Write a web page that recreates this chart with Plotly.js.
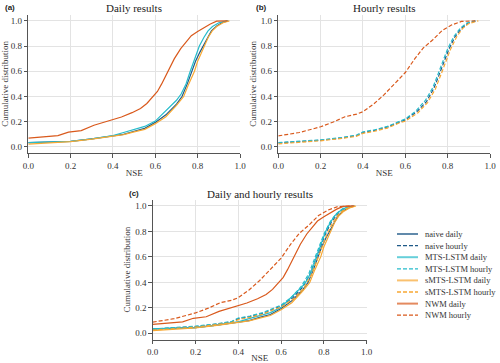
<!DOCTYPE html>
<html><head><meta charset="utf-8">
<script src="https://cdn.plot.ly/plotly-3.0.1.min.js"></script>
<style>html,body{margin:0;padding:0;background:#fff}#chart{width:500px;height:363px}</style>
</head><body><div id="chart"></div>
<script>
// ---- Data (NSE value, cumulative fraction) ----
const naiveDailyNSE = [0, 0.1, 0.2, 0.3, 0.4, 0.45, 0.5, 0.55, 0.6, 0.65, 0.7, 0.726, 0.751, 0.772, 0.79, 0.81, 0.826, 0.85, 0.865, 0.89, 0.92, 0.945];
const naiveDailyCDF = [0.035, 0.04, 0.045, 0.065, 0.088, 0.10, 0.125, 0.148, 0.195, 0.255, 0.34, 0.40, 0.50, 0.60, 0.68, 0.75, 0.80, 0.88, 0.92, 0.96, 0.99, 1.0];

const mtsDailyNSE = [0, 0.1, 0.2, 0.3, 0.4, 0.45, 0.5, 0.55, 0.6, 0.65, 0.7, 0.722, 0.745, 0.765, 0.785, 0.808, 0.83, 0.849, 0.87, 0.9, 0.94];
const mtsDailyCDF = [0.035, 0.04, 0.045, 0.065, 0.09, 0.115, 0.14, 0.163, 0.205, 0.29, 0.37, 0.42, 0.50, 0.60, 0.70, 0.80, 0.87, 0.92, 0.955, 0.985, 1.0];

const smtsDailyNSE = [0, 0.1, 0.2, 0.3, 0.4, 0.45, 0.5, 0.55, 0.6, 0.65, 0.7, 0.734, 0.758, 0.785, 0.80, 0.831, 0.85, 0.869, 0.89, 0.92, 0.95];
const smtsDailyCDF = [0.022, 0.032, 0.042, 0.062, 0.085, 0.098, 0.12, 0.14, 0.185, 0.24, 0.33, 0.40, 0.50, 0.60, 0.68, 0.80, 0.87, 0.92, 0.955, 0.985, 1.0];

const nwmDailyNSE = [0, 0.07, 0.14, 0.19, 0.25, 0.31, 0.36, 0.40, 0.44, 0.49, 0.53, 0.56, 0.59, 0.61, 0.63, 0.66, 0.69, 0.72, 0.745, 0.77, 0.80, 0.83, 0.86, 0.89, 0.94];
const nwmDailyCDF = [0.071, 0.078, 0.09, 0.118, 0.13, 0.172, 0.198, 0.218, 0.238, 0.272, 0.305, 0.345, 0.40, 0.44, 0.50, 0.60, 0.70, 0.78, 0.835, 0.882, 0.915, 0.945, 0.975, 0.997, 1.0];

const naiveHourlyNSE = [0, 0.1, 0.2, 0.3, 0.37, 0.4, 0.455, 0.515, 0.57, 0.6, 0.655, 0.7, 0.735, 0.76, 0.782, 0.805, 0.835, 0.865, 0.895, 0.935];
const naiveHourlyCDF = [0.032, 0.042, 0.053, 0.072, 0.09, 0.115, 0.132, 0.158, 0.198, 0.215, 0.28, 0.36, 0.465, 0.573, 0.68, 0.772, 0.875, 0.94, 0.98, 1.0];

const mtsHourlyNSE = [0, 0.1, 0.2, 0.3, 0.37, 0.4, 0.455, 0.515, 0.57, 0.6, 0.65, 0.695, 0.73, 0.755, 0.777, 0.80, 0.83, 0.86, 0.89, 0.93];
const mtsHourlyCDF = [0.035, 0.045, 0.056, 0.075, 0.094, 0.12, 0.136, 0.163, 0.205, 0.222, 0.285, 0.37, 0.47, 0.578, 0.685, 0.778, 0.878, 0.942, 0.982, 1.0];

const smtsHourlyNSE = [0, 0.1, 0.2, 0.3, 0.37, 0.4, 0.455, 0.515, 0.57, 0.6, 0.66, 0.705, 0.742, 0.767, 0.79, 0.812, 0.842, 0.87, 0.9, 0.945];
const smtsHourlyCDF = [0.025, 0.036, 0.049, 0.068, 0.085, 0.108, 0.125, 0.15, 0.19, 0.205, 0.272, 0.352, 0.46, 0.568, 0.675, 0.768, 0.872, 0.938, 0.978, 1.0];

const nwmHourlyNSE = [0, 0.1, 0.2, 0.26, 0.315, 0.37, 0.4, 0.45, 0.5, 0.55, 0.6, 0.645, 0.685, 0.73, 0.775, 0.82, 0.865, 0.93];
const nwmHourlyCDF = [0.088, 0.115, 0.16, 0.198, 0.24, 0.26, 0.28, 0.34, 0.415, 0.505, 0.59, 0.70, 0.785, 0.85, 0.925, 0.968, 0.995, 1.0];

const seriesNames = ['naive daily', 'naive hourly', 'MTS-LSTM daily', 'MTS-LSTM hourly', 'sMTS-LSTM daily', 'sMTS-LSTM hourly', 'NWM daily', 'NWM hourly'];
const axisTicks = [0, 0.2, 0.4, 0.6, 0.8, 1.0];
const tickLabels = ['0.0', '0.2', '0.4', '0.6', '0.8', '1.0'];

// ---- Styles ----
const C = {naive: '#1f5a88', mts: '#26bccb', smts: '#f8a833', nwm: '#d9591c'};
const DASH = '4px,2px';
const SERIF = '"Liberation Serif", "Times New Roman", serif';

const series = [
  {name: seriesNames[0], x: naiveDailyNSE, y: naiveDailyCDF, color: C.naive, dash: 'solid', kind: 'daily'},
  {name: seriesNames[1], x: naiveHourlyNSE, y: naiveHourlyCDF, color: C.naive, dash: DASH, kind: 'hourly'},
  {name: seriesNames[2], x: mtsDailyNSE, y: mtsDailyCDF, color: C.mts, dash: 'solid', kind: 'daily'},
  {name: seriesNames[3], x: mtsHourlyNSE, y: mtsHourlyCDF, color: C.mts, dash: DASH, kind: 'hourly'},
  {name: seriesNames[4], x: smtsDailyNSE, y: smtsDailyCDF, color: C.smts, dash: 'solid', kind: 'daily'},
  {name: seriesNames[5], x: smtsHourlyNSE, y: smtsHourlyCDF, color: C.smts, dash: DASH, kind: 'hourly'},
  {name: seriesNames[6], x: nwmDailyNSE, y: nwmDailyCDF, color: C.nwm, dash: 'solid', kind: 'daily'},
  {name: seriesNames[7], x: nwmHourlyNSE, y: nwmHourlyCDF, color: C.nwm, dash: DASH, kind: 'hourly'}
];

function mk(s, xa, ya) {
  return {type: 'scatter', mode: 'lines', x: s.x, y: s.y, name: s.name, xaxis: xa, yaxis: ya,
    showlegend: false, hoverinfo: 'skip',
    line: {color: s.color, width: 1.2, dash: s.dash, shape: 'linear'}};
}

const traces = [];
series.filter(s => s.kind === 'daily').forEach(s => traces.push(mk(s, 'x', 'y')));
series.filter(s => s.kind === 'hourly').forEach(s => traces.push(mk(s, 'x2', 'y2')));
series.forEach(s => traces.push(mk(s, 'x3', 'y3')));

const W = 500, H = 363;
const TXT = '#333';
function axisX(domain, anchor) {
  return {domain: domain, anchor: anchor, range: [0, 1], tickvals: axisTicks, ticktext: tickLabels,
    showgrid: true, gridcolor: '#e3e3e3', gridwidth: 1, zeroline: false,
    showline: true, linecolor: '#555', linewidth: 1, ticks: 'outside', ticklen: 3.5, tickcolor: '#555', tickwidth: 1,
    tickfont: {family: SERIF, size: 9, color: TXT},
    title: {text: 'NSE', font: {family: SERIF, size: 9, color: TXT}, standoff: 0},
    fixedrange: true};
}
function axisY(domain, anchor) {
  return {domain: domain, anchor: anchor, range: [-0.05, 1.05], tickvals: axisTicks, ticktext: tickLabels,
    showgrid: true, gridcolor: '#e3e3e3', gridwidth: 1, zeroline: false,
    showline: true, linecolor: '#555', linewidth: 1, ticks: 'outside', ticklen: 3.5, tickcolor: '#555', tickwidth: 1,
    tickfont: {family: SERIF, size: 9, color: TXT},
    title: {text: 'Cumulative distribution', font: {family: SERIF, size: 9, color: TXT}, standoff: 2},
    fixedrange: true};
}

const yTop = [1 - 153.3 / H, 1 - 14.5 / H];
const yBot = [1 - 339.7 / H, 1 - 199.6 / H];

const annotations = [
  {text: 'Daily results', x: (28.3 + 240) / 2 / W, y: 1 - 7.5 / H},
  {text: 'Hourly results', x: (278.3 + 490) / 2 / W, y: 1 - 7.5 / H},
  {text: 'Daily and hourly results', x: (152.7 + 366.7) / 2 / W, y: 1 - 194 / H}
].map(a => Object.assign(a, {xref: 'paper', yref: 'paper', xanchor: 'center', yanchor: 'middle', showarrow: false,
  font: {family: SERIF, size: 11, color: '#222'}}));

[['(a)', 3, 7.5], ['(b)', 254, 7.5], ['(c)', 127, 194]].forEach(p => annotations.push({
  text: '<b>' + p[0] + '</b>', x: p[1] / W, y: 1 - p[2] / H, xref: 'paper', yref: 'paper',
  xanchor: 'left', yanchor: 'middle', showarrow: false,
  font: {family: '"Liberation Sans", Arial, sans-serif', size: 8, color: '#222'}}));

// ---- Legend (built from the series definitions) ----
const shapes = [];
series.forEach((s, i) => {
  const yy = 1 - (234 + i * 11.6) / H;
  shapes.push({type: 'line', xref: 'paper', yref: 'paper', x0: 397 / W, x1: 418 / W, y0: yy, y1: yy,
    opacity: s.kind === 'daily' ? 0.7 : 1,
    line: {color: s.color, width: s.kind === 'daily' ? 2 : 1.3, dash: s.dash}});
  annotations.push({text: s.name, x: 423 / W, y: yy, xref: 'paper', yref: 'paper', xanchor: 'left', yanchor: 'middle',
    showarrow: false, font: {family: SERIF, size: 8.5, color: TXT}});
});

const layout = {
  width: W, height: H, margin: {l: 0, r: 0, t: 0, b: 0},
  paper_bgcolor: '#fff', plot_bgcolor: '#fff', showlegend: false,
  xaxis: axisX([28.3 / W, 240 / W], 'y'),
  yaxis: axisY(yTop, 'x'),
  xaxis2: axisX([278.3 / W, 490 / W], 'y2'),
  yaxis2: axisY(yTop, 'x2'),
  xaxis3: axisX([152.7 / W, 366.7 / W], 'y3'),
  yaxis3: axisY(yBot, 'x3'),
  annotations: annotations, shapes: shapes
};

Plotly.newPlot('chart', traces, layout, {staticPlot: true, displayModeBar: false});
</script>
</body></html>
